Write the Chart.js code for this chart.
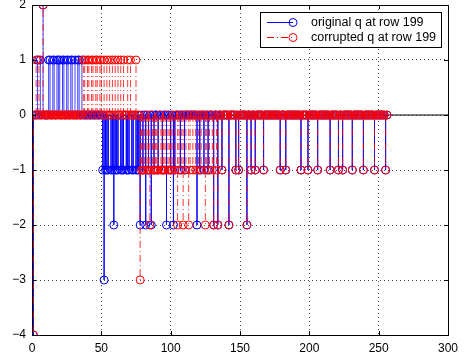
<!DOCTYPE html>
<html lang="en">
<head>
<meta charset="UTF-8" />
<title>q at row 199</title>
<script src="https://cdn.jsdelivr.net/npm/chart.js"></script>
<style>
  html, body { margin: 0; padding: 0; background: #fff; }
  .chart-container { position: relative; width: 469px; height: 358px; }
</style>
</head>
<body>
<div class="chart-container"><canvas id="chart"></canvas></div>
<script>
  // number of coefficients in the row (x = 1..N)
  const N = 256;
  const xTicks = [0, 50, 100, 150, 200, 250, 300];
  const yTicks = [-4, -3, -2, -1, 0, 1, 2];

  // original q: indices holding each non-zero value
  const origMinus4 = [1];
  const origPlus2 = [8];
  const origPlus1 = [4, 6, 12, 13, 15, 16, 18, 19, 20, 22, 23, 25, 26, 28, 29, 31, 33, 34, 36];
  const origMinus3 = [52];
  const origMinus2 = [59, 78, 82, 86, 97, 102, 119, 131, 134, 142, 155];
  const origMinus1 = [51, 53, 54, 55, 57, 58, 60, 61, 62, 64, 65, 66, 68, 69, 70, 72, 73, 75, 76, 77,
                      80, 84, 88, 91, 94, 100, 103, 107, 110, 121, 124, 127];

  // corrupted q
  const corrMinus4 = [1];
  const corrPlus2 = [8];
  const corrPlus1 = [3, 5, 37, 38, 40, 41, 43, 44, 46, 47, 49, 50, 52, 54, 56, 58, 60, 62, 64, 66, 69, 71, 75];
  const corrMinus3 = [78];
  const corrMinus2 = [85, 105, 109, 113, 125, 131, 134, 142, 155];
  const corrMinus1 = [79, 80, 81, 83, 84, 87, 88, 89, 90, 91, 93, 94, 95, 96, 98, 99, 100, 101, 103, 106,
                      108, 111, 114, 116, 118, 120, 122, 126, 128, 130, 133];

  // -1 entries that both rows share in the tail
  const sharedMinus1 = [137, 147, 149, 158, 161, 167, 179, 183, 194, 199, 206, 215, 221, 224, 231, 239, 247, 255];

  function buildRow(groups) {
    const v = new Array(N).fill(0);
    groups.forEach(([val, idxs]) => idxs.forEach(i => { v[i - 1] = val; }));
    return v;
  }

  const original = buildRow([
    [-1, origMinus1], [-1, sharedMinus1], [1, origPlus1], [2, origPlus2],
    [-2, origMinus2], [-3, origMinus3], [-4, origMinus4]
  ]);
  const corrupted = buildRow([
    [-1, corrMinus1], [-1, sharedMinus1], [1, corrPlus1], [2, corrPlus2],
    [-2, corrMinus2], [-3, corrMinus3], [-4, corrMinus4]
  ]);

  const points = row => row.map((y, i) => ({ x: i + 1, y: y }));
  const stems = row => {
    const out = [];
    row.forEach((y, i) => {
      if (y !== 0) out.push({ x: i + 1, y: 0 }, { x: i + 1, y: y }, { x: i + 1, y: null });
    });
    return out;
  };

  const BLUE = '#0000ff';
  const RED = '#ff0000';
  const RED_DASH = [7, 3, 1, 3];

  const frame = {
    id: 'frame',
    afterDatasetsDraw(chart) {
      const { ctx, chartArea: a, scales } = chart;
      ctx.save();
      ctx.strokeStyle = '#000';
      ctx.lineWidth = 1;
      ctx.setLineDash([]);
      ctx.beginPath();
      xTicks.forEach(v => {
        const px = Math.round(scales.x.getPixelForValue(v)) + 0.5;
        ctx.moveTo(px, a.bottom); ctx.lineTo(px, a.bottom - 4);
        ctx.moveTo(px, a.top); ctx.lineTo(px, a.top + 4);
      });
      yTicks.forEach(v => {
        const py = Math.round(scales.y.getPixelForValue(v)) + 0.5;
        ctx.moveTo(a.left, py); ctx.lineTo(a.left + 4, py);
        ctx.moveTo(a.right, py); ctx.lineTo(a.right - 4, py);
      });
      ctx.stroke();
      ctx.strokeRect(Math.round(a.left) + 0.5, Math.round(a.top) + 0.5,
                     Math.round(a.right - a.left), Math.round(a.bottom - a.top));
      ctx.restore();
    },
    afterDraw(chart) {
      const ctx = chart.ctx;
      const entries = [
        { label: chart.data.datasets[1].label, color: BLUE, dash: [] },
        { label: chart.data.datasets[3].label, color: RED, dash: RED_DASH }
      ];
      ctx.save();
      ctx.fillStyle = '#fff';
      ctx.fillRect(260.5, 12.5, 181, 35);
      ctx.strokeStyle = '#000';
      ctx.lineWidth = 1;
      ctx.strokeRect(260.5, 12.5, 181, 35);
      ctx.font = '12.5px "Liberation Sans", Arial, sans-serif';
      ctx.textBaseline = 'middle';
      entries.forEach((e, k) => {
        const y = 22.5 + k * 15;
        ctx.strokeStyle = e.color;
        ctx.setLineDash(e.dash);
        ctx.beginPath(); ctx.moveTo(267, y); ctx.lineTo(293, y); ctx.stroke();
        ctx.setLineDash([]);
        ctx.beginPath(); ctx.arc(293, y, 4, 0, Math.PI * 2); ctx.stroke();
        ctx.fillStyle = '#000';
        ctx.fillText(e.label, 311, y + 0.5);
      });
      ctx.restore();
    }
  };

  new Chart(document.getElementById('chart'), {
    type: 'line',
    data: {
      datasets: [
        {
          label: 'original stems', data: stems(original), order: 4,
          borderColor: 'rgba(0,0,255,0.75)', borderWidth: 1, pointRadius: 0, spanGaps: false, tension: 0
        },
        {
          label: 'original q at row 199', data: points(original), order: 3, showLine: false,
          pointStyle: 'circle', pointRadius: 4, pointBorderWidth: 1,
          pointBorderColor: BLUE, pointBackgroundColor: 'rgba(0,0,0,0)', borderColor: BLUE
        },
        {
          label: 'corrupted stems', data: stems(corrupted), order: 2,
          borderColor: 'rgba(255,0,0,0.8)', borderWidth: 1, borderDash: RED_DASH, pointRadius: 0, spanGaps: false, tension: 0
        },
        {
          label: 'corrupted q at row 199', data: points(corrupted), order: 1, showLine: false,
          pointStyle: 'circle', pointRadius: 4, pointBorderWidth: 1,
          pointBorderColor: RED, pointBackgroundColor: 'rgba(0,0,0,0)', borderColor: RED
        },
        {
          label: 'baseline', data: [{ x: xTicks[0], y: 0 }, { x: xTicks[xTicks.length - 1], y: 0 }], order: 5,
          borderColor: '#000', borderWidth: 1, pointRadius: 0
        }
      ]
    },
    options: {
      responsive: true,
      maintainAspectRatio: false,
      animation: false,
      events: [],
      layout: { padding: { top: 5, right: 21, left: 0, bottom: 0 } },
      plugins: { legend: { display: false }, tooltip: { enabled: false } },
      scales: {
        x: {
          type: 'linear', min: 0, max: 300,
          afterFit: s => { s.height = 23; s.paddingLeft = 0; s.paddingRight = 0; },
          afterBuildTicks: s => { s.ticks = xTicks.map(v => ({ value: v })); },
          ticks: { color: '#000', padding: 6, font: { size: 12, family: '"Liberation Sans", Arial, sans-serif' } },
          grid: { color: 'rgba(0,0,0,0.7)', drawTicks: false, lineWidth: 1 },
          border: { display: false, dash: [1, 3] }
        },
        y: {
          type: 'linear', min: -4, max: 2,
          afterFit: s => { s.width = 32; s.paddingTop = 0; s.paddingBottom = 0; },
          afterBuildTicks: s => { s.ticks = yTicks.map(v => ({ value: v })); },
          ticks: {
            color: '#000', padding: 6, font: { size: 12, family: '"Liberation Sans", Arial, sans-serif' },
            callback: v => String(v).replace('-', '\u2212')
          },
          grid: { color: 'rgba(0,0,0,0.7)', drawTicks: false, lineWidth: 1 },
          border: { display: false, dash: [1, 3] }
        }
      }
    },
    plugins: [frame]
  });
</script>
</body>
</html>
